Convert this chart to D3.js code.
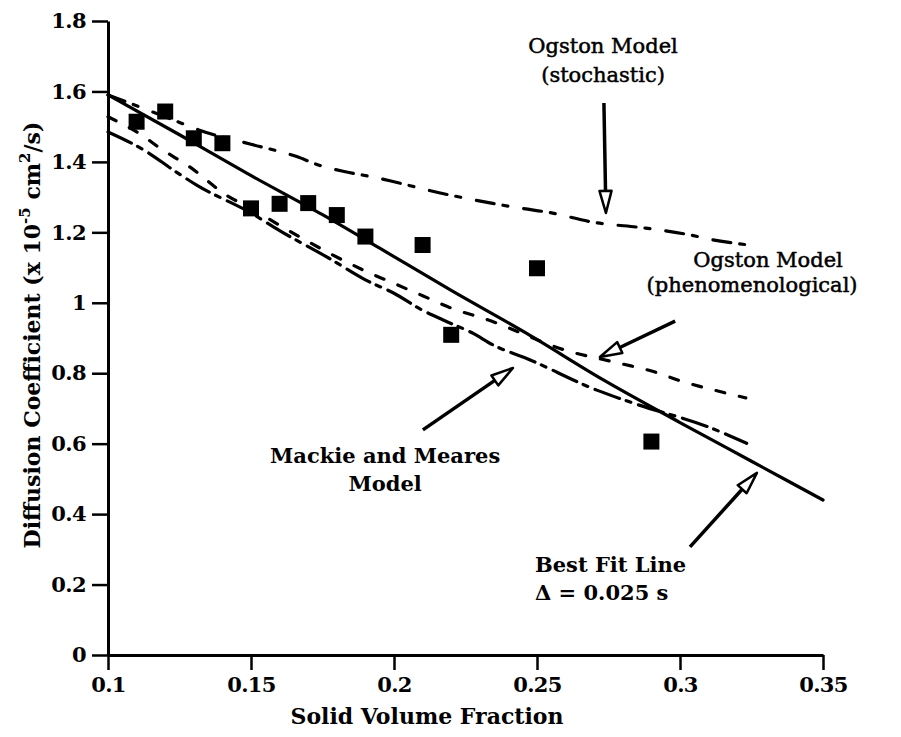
<!DOCTYPE html>
<html lang="en">
<head>
<meta charset="UTF-8">
<title>Diffusion Coefficient</title>
<script src="https://cdn.jsdelivr.net/npm/d3@7/dist/d3.min.js"></script>
<style>
	body{margin:0;background:#fff;}
	text{font-family:"DejaVu Serif",serif;fill:#000;}
</style>
</head>
<body>
<div id="chart"></div>
<script>
	// measured points
	var sqX = [0.11,0.12,0.13,0.14,0.15,0.16,0.17,0.18,0.19,0.21,0.22,0.25,0.29];
	var sqY = [1.514,1.543,1.467,1.453,1.268,1.281,1.283,1.249,1.188,1.164,0.909,1.098,0.606];

	// best fit line (solid)
	var fitX = [0.1,0.125,0.1485,0.175,0.195,0.22,0.2464,0.2732,0.3,0.325,0.35];
	var fitY = [1.59,1.477,1.368,1.25,1.155,1.035,0.913,0.781,0.66,0.55,0.44];

	// Ogston model, stochastic (dash-dot)
	var stoX = [0.1,0.112,0.125,0.132,0.15,0.166,0.174,0.183,0.192,0.22,0.2447,0.2545,0.2695,0.288,0.302,0.312,0.325];
	var stoY = [1.59,1.553,1.512,1.49,1.45,1.415,1.39,1.372,1.358,1.305,1.268,1.256,1.229,1.212,1.195,1.178,1.163];

	// Ogston model, phenomenological (short dash)
	var phenX = [0.1,0.112,0.118,0.1287,0.1415,0.15,0.16,0.1776,0.19,0.2,0.21,0.22,0.233,0.26,0.279,0.291,0.301,0.312,0.323];
	var phenY = [1.528,1.475,1.44,1.385,1.305,1.268,1.22,1.14,1.09,1.055,1.02,0.985,0.951,0.865,0.828,0.804,0.776,0.752,0.73];

	// Mackie and Meares model (long dash)
	var mmX = [0.1,0.1135,0.1228,0.131,0.15,0.16,0.1776,0.19,0.2,0.2097,0.2172,0.2277,0.2347,0.2464,0.2709,0.2837,0.311,0.3233];
	var mmY = [1.485,1.429,1.377,1.334,1.255,1.205,1.125,1.065,1.027,0.98,0.951,0.913,0.88,0.842,0.752,0.715,0.644,0.601];

	var xTicks = [0.1,0.15,0.2,0.25,0.3,0.35];
	var xTickLabels = ['0.1','0.15','0.2','0.25','0.3','0.35'];
	var yTicks = [0,0.2,0.4,0.6,0.8,1,1.2,1.4,1.6,1.8];
	var yTickLabels = ['0','0.2','0.4','0.6','0.8','1','1.2','1.4','1.6','1.8'];

	var W = 901, H = 737;
	var svg = d3.select('#chart').append('svg').attr('width',W).attr('height',H);

	var x = d3.scaleLinear().domain([0.1,0.35]).range([108,823]);
	var y = d3.scaleLinear().domain([0,1.8]).range([655,21]);

	// minor ticks
	var xMinor = d3.range(0,26).map(function(i){ return 0.1 + i*0.01; });
	var yMinor = d3.range(0,37).map(function(i){ return i*0.05; });

	var gx = svg.append('g').attr('transform','translate(0,655)');
	gx.call(d3.axisBottom(x).tickValues(xMinor).tickSize(8).tickSizeOuter(0).tickFormat(''));
	gx.call(d3.axisBottom(x).tickValues(xTicks).tickSize(15).tickSizeOuter(0)
		.tickFormat(function(d,i){ return xTickLabels[i]; }).tickPadding(7));

	var gy = svg.append('g').attr('transform','translate(108,0)');
	gy.call(d3.axisLeft(y).tickValues(yMinor).tickSize(9).tickSizeOuter(0).tickFormat(''));
	gy.call(d3.axisLeft(y).tickValues(yTicks).tickSize(16).tickSizeOuter(0)
		.tickFormat(function(d,i){ return yTickLabels[i]; }).tickPadding(6));

	svg.selectAll('.domain').attr('stroke','#000').attr('stroke-width',3);
	svg.selectAll('.tick line').attr('stroke','#000').attr('stroke-width',2.5);
	svg.selectAll('.tick text').attr('font-family','"DejaVu Serif",serif')
		.attr('font-size',21).attr('font-weight','bold').attr('fill','#000')
		.attr('letter-spacing',-0.6);

	// axis titles
	svg.append('text').attr('x',427).attr('y',724).attr('text-anchor','middle')
		.attr('font-size',22).attr('font-weight','bold').text('Solid Volume Fraction');

	var yt = svg.append('text').attr('transform','translate(40,335) rotate(-90)')
		.attr('text-anchor','middle').attr('font-size',22).attr('font-weight','bold');
	yt.append('tspan').text('Diffusion Coefficient (x 10');
	yt.append('tspan').attr('dy',-10).attr('font-size',15).text('-5');
	yt.append('tspan').attr('dy',10).text(' cm');
	yt.append('tspan').attr('dy',-10).attr('font-size',15).text('2');
	yt.append('tspan').attr('dy',10).text('/s)');

	// curves
	function pts(xs, ys){ return xs.map(function(d,i){ return [d, ys[i]]; }); }
	var line = d3.line().x(function(d){ return x(d[0]); }).y(function(d){ return y(d[1]); })
		.curve(d3.curveMonotoneX);

	var curves = [
		{p: pts(stoX,stoY), dash: '18,9,5,16'},
		{p: pts(phenX,phenY), dash: '9,15'},
		{p: pts(mmX,mmY), dash: '26,7,5,8'},
		{p: pts(fitX,fitY), dash: null}
	];
	svg.selectAll('path.curve').data(curves).enter().append('path')
		.attr('class','curve')
		.attr('d',function(d){ return line(d.p); })
		.attr('fill','none').attr('stroke','#000').attr('stroke-width',3.2)
		.attr('stroke-linecap','round')
		.attr('stroke-dasharray',function(d){ return d.dash; });

	// squares
	var s = 16;
	svg.selectAll('rect.pt').data(pts(sqX,sqY)).enter().append('rect')
		.attr('class','pt')
		.attr('x',function(d){ return x(d[0]) - s/2; })
		.attr('y',function(d){ return y(d[1]) - s/2; })
		.attr('width',s).attr('height',s).attr('fill','#000');

	// annotations (positions in data units)
	function arrow(x0,y0,x1,y1){
		var ax = x(x0), ay = y(y0), bx = x(x1), by = y(y1);
		var dx = bx-ax, dy = by-ay, len = Math.sqrt(dx*dx+dy*dy);
		var ux = dx/len, uy = dy/len, hl = 22, hw = 6;
		var cx = bx - ux*hl, cy = by - uy*hl;
		svg.append('line').attr('x1',ax).attr('y1',ay).attr('x2',cx).attr('y2',cy)
			.attr('stroke','#000').attr('stroke-width',3.5);
		svg.append('polygon')
			.attr('points',[[bx,by],[cx-uy*hw,cy+ux*hw],[cx+uy*hw,cy-ux*hw]].join(' '))
			.attr('fill','#fff').attr('stroke','#000').attr('stroke-width',2.5)
			.attr('stroke-linejoin','round');
	}
	function label(t,xv,yv,anchor,weight){
		var el = svg.append('text').attr('x',x(xv)).attr('y',y(yv)).attr('text-anchor',anchor)
			.attr('font-size',21).attr('font-weight',weight).text(t);
		if(weight == 'normal') el.attr('stroke','#000').attr('stroke-width',0.5);
	}

	label('Ogston Model',0.2731,1.709,'middle','normal');
	label('(stochastic)',0.2731,1.627,'middle','normal');
	arrow(0.2734,1.567,0.2741,1.255);

	label('Ogston Model',0.3308,1.102,'middle','normal');
	label('(phenomenological)',0.3252,1.031,'middle','normal');
	arrow(0.2983,0.948,0.272,0.846);

	label('Mackie and Meares',0.1969,0.545,'middle','bold');
	label('Model',0.1969,0.466,'middle','bold');
	arrow(0.2101,0.639,0.2416,0.815);

	label('Best Fit Line',0.2493,0.236,'start','bold');
	label('\u0394 = 0.025 s',0.2493,0.156,'start','bold');
	arrow(0.3035,0.307,0.3269,0.517);
</script>
</body>
</html>
